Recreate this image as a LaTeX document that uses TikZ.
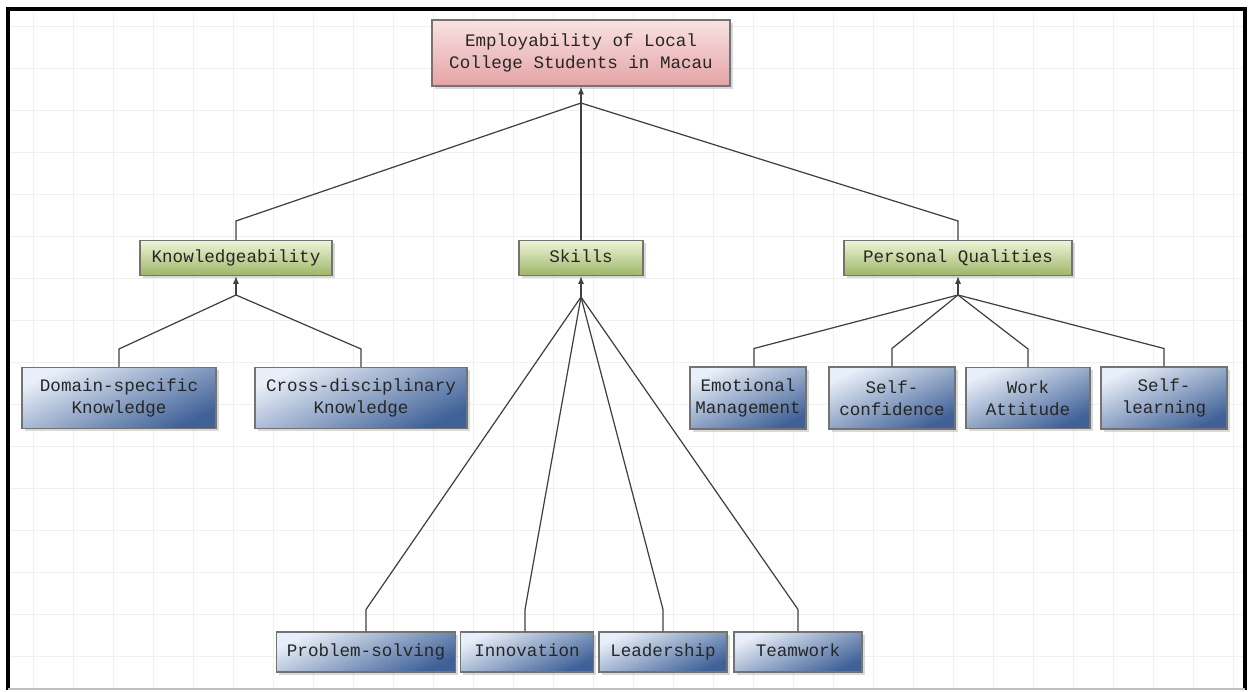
\documentclass[tikz,border=0pt]{standalone}
\usepackage{fontspec}
\setmonofont{Liberation Mono}
\usetikzlibrary{arrows.meta, positioning, shadows}

\definecolor{rootTop}{HTML}{F9E2E2}
\definecolor{rootBot}{HTML}{E4A3A6}
\definecolor{grpTop}{HTML}{EEF4D8}
\definecolor{grpBot}{HTML}{9DB667}
\definecolor{leafTop}{HTML}{E9EFF8}
\definecolor{leafBot}{HTML}{3F6198}
\definecolor{gridline}{HTML}{F0F0F0}

\tikzset{
  box/.style={draw=black!55, line width=0.6pt, align=center,
    font=\ttfamily\fontsize{10}{12.5}\selectfont, text=black!85, inner sep=1pt,
    drop shadow={opacity=0.3, shadow xshift=1.5pt, shadow yshift=-1.5pt}},
  oneline/.style={text height=1.6ex, text depth=0.45ex},
  boxsize/.style 2 args={minimum width=#1*0.02cm, minimum height=#2*0.02cm},
  rootbox/.style={box, top color=rootTop, bottom color=rootBot},
  groupbox/.style={box, oneline, top color=grpTop, bottom color=grpBot},
  leafbox/.style={box, top color=leafTop, bottom color=leafBot, shading angle=25},
  link/.style={draw=black!75, line width=0.7pt},
  uplink/.style={link, -{Latex[length=4.5pt,width=3.5pt]}},
}

\begin{document}
\begin{tikzpicture}[x=0.02cm, y=-0.02cm]
  \useasboundingbox (0,0) rectangle (1250,691);

  % grid paper
  \foreach \x in {33,73,...,1233}
    \draw[gridline, line width=0.5pt] (\x,10) -- (\x,688);
  \foreach \y in {26,68,...,680}
    \draw[gridline, line width=0.5pt] (9,\y) -- (1245,\y);

  % frame
  \draw[black, line width=1.8pt] (8,690) -- (8,9) -- (1245,9) -- (1245,690);
  \draw[black!25, line width=0.8pt] (8,689) -- (1245,689);

  % top
  \node[rootbox, boxsize={298}{66}] (employ) at (581,53)
    {Employability of Local\\College Students in Macau};

  % second level
  \node[groupbox, boxsize={192}{35}] (know) at (236,258) {Knowledgeability};
  \node[groupbox, boxsize={124}{35}] (skills) at (581,258) {Skills};
  \node[groupbox, boxsize={228}{35}] (qual) at (958,258) {Personal Qualities};

  % knowledge leaves
  \node[leafbox, boxsize={194}{61}] (domain) at (119,398) {Domain-specific\\Knowledge};
  \node[leafbox, boxsize={212}{61}] (cross) at (361,398) {Cross-disciplinary\\Knowledge};

  % quality leaves
  \node[leafbox, boxsize={116}{62}] (emo) at (748,398) {Emotional\\Management};
  \node[leafbox, boxsize={126}{62}] (conf) at (892,398) {Self-\\confidence};
  \node[leafbox, boxsize={124}{61}] (work) at (1028,398) {Work\\Attitude};
  \node[leafbox, boxsize={126}{62}] (learn) at (1164,398) {Self-\\learning};

  % skill leaves
  \node[leafbox, oneline, boxsize={179}{40}] (prob) at (366,652) {Problem-solving};
  \node[leafbox, oneline, boxsize={133}{40}] (innov) at (527,652) {Innovation};
  \node[leafbox, oneline, boxsize={128}{40}] (lead) at (663,652) {Leadership};
  \node[leafbox, oneline, boxsize={128}{40}] (team) at (798,652) {Teamwork};

  % fan points
  \coordinate (rootfan) at (581,103);
  \coordinate (knowfan) at (236,295);
  \coordinate (skillfan) at (581,297);
  \coordinate (qualfan) at (958,295);

  \draw[uplink] (rootfan) -- (employ.south);
  \draw[uplink] (knowfan) -- (know.south);
  \draw[uplink] (skillfan) -- (skills.south);
  \draw[uplink] (qualfan) -- (qual.south);

  \foreach \n in {know,qual}
    \draw[link] (\n.north) -- ++(0,-19) -- (rootfan);
  \draw[link] (skills.north) -- (rootfan);
  \foreach \n in {domain,cross}
    \draw[link] (\n.north) -- ++(0,-18) -- (knowfan);
  \draw[link] (emo.north) ++(6,0) -- ++(0,-18) -- (qualfan);
  \foreach \n in {conf,work,learn}
    \draw[link] (\n.north) -- ++(0,-18) -- (qualfan);
  \draw[link] (prob.north) -- ++(0,-22) -- (skillfan);
  \draw[link] (innov.north) ++(-2,0) -- ++(0,-22) -- (skillfan);
  \draw[link] (lead.north) -- ++(0,-22) -- (skillfan);
  \draw[link] (team.north) -- ++(0,-22) -- (skillfan);
\end{tikzpicture}
\end{document}
